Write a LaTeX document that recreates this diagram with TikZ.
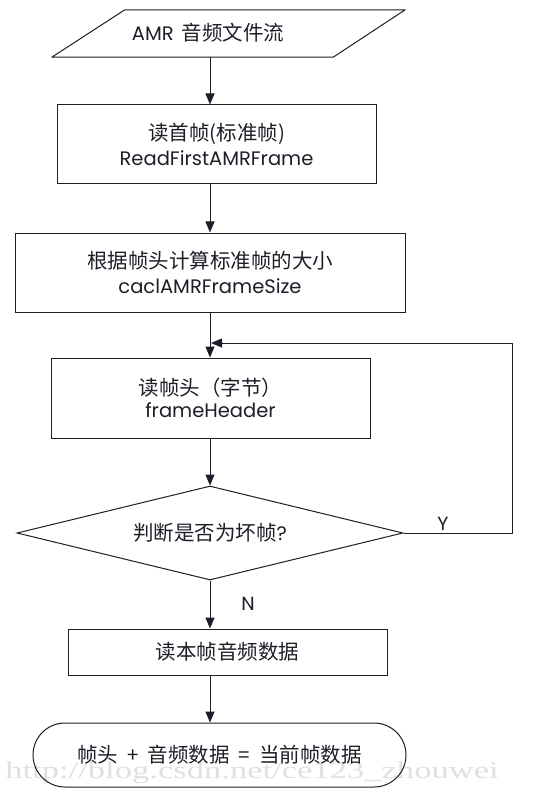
\documentclass[tikz,border=0pt]{standalone}
\usepackage{fontspec}
\setmainfont{Poppins}
\newfontfamily\cjk{Noto Sans CJK SC}
\newfontfamily\wmfont{Liberation Serif}
\usetikzlibrary{shapes.geometric,shapes.misc,arrows.meta}
\definecolor{ink}{HTML}{1E1E28}
\definecolor{wm}{HTML}{E0E0E0}
\tikzset{
  box/.style={draw=ink, line width=1pt, rectangle, inner sep=0pt, align=center, text=ink},
  arr/.style={draw=ink, line width=1pt, -{Triangle[length=11pt,width=9pt]}},
  lbl/.style={text=ink, font=\fontsize{19}{19}\selectfont},
}
\newcommand{\zh}[1]{{\cjk\fontsize{20.5}{30}\selectfont #1}}
\newcommand{\en}[1]{{\fontsize{19.5}{19.5}\selectfont #1}}
\begin{document}
\begin{tikzpicture}[x=1pt,y=-1pt]
\useasboundingbox[fill=white] (0,0) rectangle (540,802);
\coordinate (ax) at (210,0);
% watermark
\node[text=wm, inner sep=0pt] (wmk) at (252,773) {\scalebox{1.44}[1]{\wmfont\fontsize{24}{24}\selectfont http://blog.csdn.net/ce123\_zhouwei}};
% input parallelogram
\node[inner sep=0pt, minimum width=353pt, minimum height=47pt] (in) at (228.5,33.5) {};
\draw[draw=ink, line width=1pt, line join=round] (in.south west) -- ([xshift=-72pt]in.south east) -- (in.north east) -- ([xshift=73pt]in.north west) -- cycle;
\node[text=ink, inner sep=0pt] (intx) at (208,33) {\en{AMR}\hspace{8pt}\zh{音频文件流}};
% boxes
\node[box, minimum width=319pt, minimum height=79pt] (b1) at (216.5,144.5) {\zh{读首帧(标准帧)}\\[5pt]\en{ReadFirstAMRFrame}};
\node[box, minimum width=390pt, minimum height=79pt] (b2) at (210,272.5) {\zh{根据帧头计算标准帧的大小}\\[8pt]\en{caclAMRFrameSize}};
\node[box, minimum width=319pt, minimum height=80pt] (b3) at (210.5,398) {\zh{读帧头（字节）}\\[4pt]\en{frameHeader}};
\node[box, shape=diamond, aspect=4.1, inner sep=1pt, minimum width=386pt, minimum height=94pt] (dec) at (210,533) {\zh{判断是否为坏帧}\en{?}};
\node[box, minimum width=319pt, minimum height=46pt] (b4) at (227.5,652) {\zh{读本帧音频数据}};
\node[box, shape=rounded rectangle, minimum width=373pt, minimum height=64pt] (out) at (219.5,755) {\zh{帧头\ \ +\ \ 音频数据\ \ =\ \ 当前帧数据}};
% connectors
\draw[arr] (in.south -| ax) -- (b1.north -| ax);
\draw[arr] (b1.south -| ax) -- (b2.north -| ax);
\draw[arr] (b2.south -| ax) -- (b3.north -| ax);
\draw[arr] (b3.south -| ax) -- (dec.north);
\draw[arr] (dec.south) -- (b4.north -| ax);
\draw[arr] (b4.south -| ax) -- (out.north -| ax);
\coordinate (rt) at (512,343);
\coordinate (jn) at (211,343);
\draw[arr] (dec.east) -| (rt) -- (jn);
\node[lbl] (ylab) at (443,524) {Y};
\node[lbl] (nlab) at (248,604) {N};
\end{tikzpicture}
\end{document}
